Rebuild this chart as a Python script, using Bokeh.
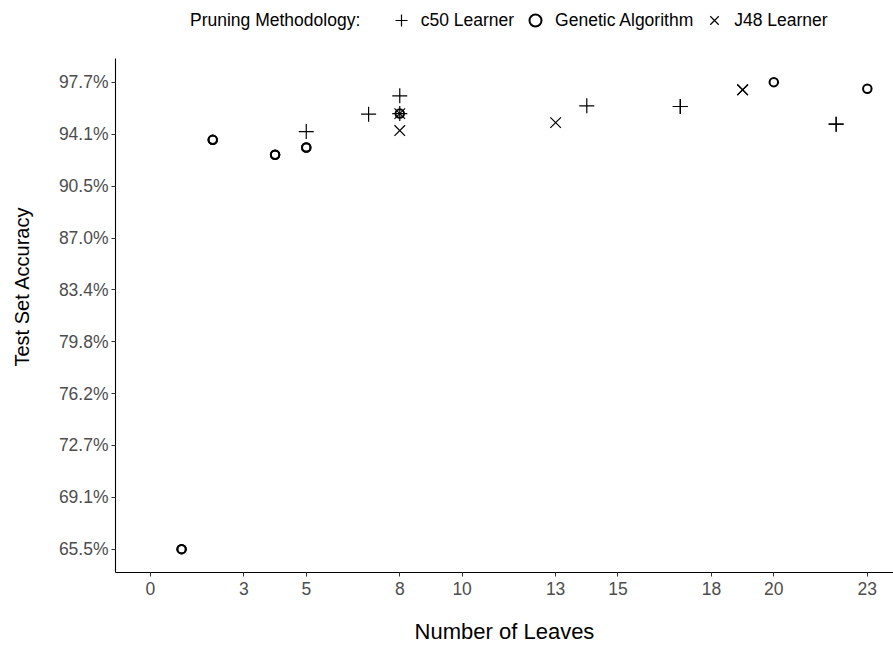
from bokeh.plotting import figure
from bokeh.models import (ColumnDataSource, Legend, LegendItem, FixedTicker,
                          Range1d)
from bokeh.embed import file_html
from bokeh.resources import INLINE

# ---- data ----
c50_leaves = [5, 7, 8, 8, 14, 17, 17, 22, 22]
c50_acc = [94.31, 95.51, 96.78, 95.55, 96.09, 96.04, 96.04, 94.82, 94.82]

ga_leaves = [1, 1, 2, 2, 4, 4, 5, 5, 8, 20, 23]
ga_acc = [65.52, 65.52, 93.74, 93.74, 92.71, 92.71, 93.21, 93.21, 95.55, 97.72, 97.26]

j48_leaves = [8, 8, 13, 19, 19]
j48_acc = [94.38, 95.55, 94.93, 97.19, 97.19]

x_ticks = [0, 3, 5, 8, 10, 13, 15, 18, 20, 23]
y_ticks = [65.52, 69.096, 72.671, 76.247, 79.822, 83.398, 86.973, 90.549, 94.124, 97.70]
y_tick_labels = ["65.5%", "69.1%", "72.7%", "76.2%", "79.8%", "83.4%",
                 "87.0%", "90.5%", "94.1%", "97.7%"]
legend_title = "Pruning Methodology:"

FONT = "Liberation Sans"
NBSP = "\u00a0"
Y_PANEL = (63.91, 99.33)      # visible panel extent of the accuracy axis

# the frame also covers the legend row (top strip); the axis line is bounded
p = figure(width=893, height=648, output_backend="svg", toolbar_location=None,
           x_range=Range1d(-1.12, 23.84), y_range=Range1d(63.91, 103.35),
           min_border_left=115, min_border_right=0, min_border_top=0,
           min_border_bottom=76)

src_c50 = ColumnDataSource(dict(x=c50_leaves, y=c50_acc))
src_ga = ColumnDataSource(dict(x=ga_leaves, y=ga_acc))
src_j48 = ColumnDataSource(dict(x=j48_leaves, y=j48_acc))

r_c50 = p.scatter("x", "y", source=src_c50, marker="cross", size=15,
                  line_color="black", line_width=1.2)
r_ga = p.scatter("x", "y", source=src_ga, marker="circle", size=8.5,
                 fill_color=None, line_color="black", line_width=2)
r_j48 = p.scatter("x", "y", source=src_j48, marker="x", size=15,
                  line_color="black", line_width=1.2)
# invisible holder so the legend title can sit on the same row as the keys
r_title = p.scatter(x=[], y=[], marker="circle", size=1,
                    line_alpha=0, fill_alpha=0)

# axes
p.xgrid.visible = False
p.ygrid.visible = False
p.outline_line_color = None
p.background_fill_color = "white"
p.border_fill_color = "white"

for ax in (p.xaxis[0], p.yaxis[0]):
    ax.axis_line_color = "black"
    ax.axis_line_width = 1.1
    ax.major_tick_line_color = "#333333"
    ax.major_tick_in = 0
    ax.major_tick_out = 4
    ax.minor_tick_line_color = None
    ax.major_label_text_color = "#4D4D4D"
    ax.major_label_text_font = FONT
    ax.major_label_text_font_size = "17.5px"
    ax.axis_label_text_font = FONT
    ax.axis_label_text_font_style = "normal"
    ax.axis_label_text_color = "black"

p.yaxis.bounds = Y_PANEL
p.xaxis.axis_label_text_font_size = "22px"
p.yaxis.axis_label_text_font_size = "20px"
p.xaxis.ticker = FixedTicker(ticks=x_ticks)
p.yaxis.ticker = FixedTicker(ticks=y_ticks)
p.yaxis.major_label_overrides = dict(zip(y_ticks, y_tick_labels))
p.xaxis.axis_label = "Number of Leaves"
p.yaxis.axis_label = "Test Set Accuracy"
p.xaxis.major_label_standoff = 5
p.yaxis.major_label_standoff = 3
p.xaxis.axis_label_standoff = 21
p.yaxis.axis_label_standoff = 23

legend = Legend(items=[LegendItem(label=legend_title + NBSP * 4, renderers=[r_title]),
                       LegendItem(label="c50 Learner", renderers=[r_c50]),
                       LegendItem(label="Genetic Algorithm", renderers=[r_ga]),
                       LegendItem(label="J48 Learner", renderers=[r_j48])],
                orientation="horizontal", location=(40, 537),
                border_line_color=None, background_fill_alpha=0,
                label_text_font=FONT, label_text_font_size="17.5px",
                label_text_color="black",
                glyph_width=30, glyph_height=30, label_standoff=5,
                spacing=6, padding=0, margin=0)
p.add_layout(legend, "center")

open("out.html", "w").write(file_html(p, INLINE))
